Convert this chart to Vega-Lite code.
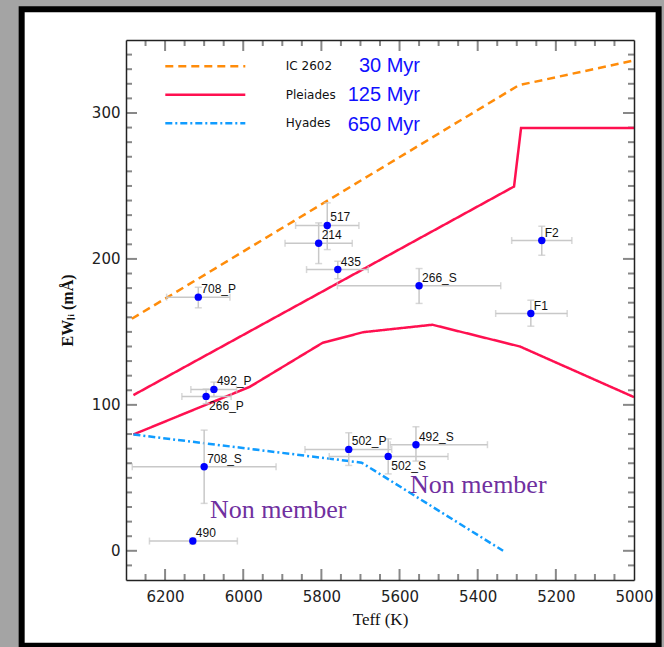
{
  "$schema": "https://vega.github.io/schema/vega-lite/v6.json",
  "width": 508,
  "height": 540,
  "autosize": {"type": "none"},
  "padding": {"left": 126, "top": 40, "right": 30, "bottom": 67},
  "background": "#a4a4a4",
  "config": {
    "view": {"stroke": null},
    "axis": {"grid": false, "labelFlush": false, "labelOverlap": false, "domainColor": "#222222", "domainWidth": 1.5}
  },
  "datasets": {
    "curves": [
      {"cluster": "IC 2602", "seg": "ic", "i": 1, "t": 6285, "ew": 159},
      {"cluster": "IC 2602", "seg": "ic", "i": 2, "t": 5295, "ew": 319},
      {"cluster": "IC 2602", "seg": "ic", "i": 3, "t": 5000, "ew": 336},
      {"cluster": "Pleiades", "seg": "pu", "i": 1, "t": 6281, "ew": 106.7},
      {"cluster": "Pleiades", "seg": "pu", "i": 2, "t": 5307, "ew": 249.6},
      {"cluster": "Pleiades", "seg": "pu", "i": 3, "t": 5289, "ew": 289.7},
      {"cluster": "Pleiades", "seg": "pu", "i": 4, "t": 5000, "ew": 289.7},
      {"cluster": "Pleiades", "seg": "pl", "i": 1, "t": 6281, "ew": 79.7},
      {"cluster": "Pleiades", "seg": "pl", "i": 2, "t": 5983, "ew": 112.4},
      {"cluster": "Pleiades", "seg": "pl", "i": 3, "t": 5797, "ew": 142.5},
      {"cluster": "Pleiades", "seg": "pl", "i": 4, "t": 5693, "ew": 149.8},
      {"cluster": "Pleiades", "seg": "pl", "i": 5, "t": 5516, "ew": 154.9},
      {"cluster": "Pleiades", "seg": "pl", "i": 6, "t": 5292, "ew": 140},
      {"cluster": "Pleiades", "seg": "pl", "i": 7, "t": 5000, "ew": 105.3},
      {"cluster": "Hyades", "seg": "hy", "i": 1, "t": 6281, "ew": 79.7},
      {"cluster": "Hyades", "seg": "hy", "i": 2, "t": 5697, "ew": 60.4},
      {"cluster": "Hyades", "seg": "hy", "i": 3, "t": 5335, "ew": 0}
    ],
    "stars": [
      {"name": "517", "t": 5785, "ew": 222.9, "tlo": 5704, "thi": 5866, "elo": 206.4, "ehi": 238.4},
      {"name": "214", "t": 5807, "ew": 210.7, "tlo": 5721, "thi": 5893, "elo": 196.8, "ehi": 224.7},
      {"name": "435", "t": 5758, "ew": 192.7, "tlo": 5680, "thi": 5838, "elo": 186.4, "ehi": 198.4},
      {"name": "708_P", "t": 6115, "ew": 173.8, "tlo": 6034, "thi": 6196, "elo": 166.5, "ehi": 180.6},
      {"name": "F2", "t": 5236, "ew": 212.6, "tlo": 5159, "thi": 5313, "elo": 202.5, "ehi": 222.4},
      {"name": "266_S", "t": 5550, "ew": 181.6, "tlo": 5341, "thi": 5759, "elo": 169.5, "ehi": 193.4},
      {"name": "F1", "t": 5264, "ew": 162.6, "tlo": 5171, "thi": 5354, "elo": 153.9, "ehi": 171.7},
      {"name": "492_P", "t": 6075, "ew": 110.6, "tlo": 6017, "thi": 6134, "elo": 105.6, "ehi": 115.6},
      {"name": "266_P", "t": 6095, "ew": 105.8, "tlo": 6031, "thi": 6157, "elo": 100.8, "ehi": 110.8},
      {"name": "708_S", "t": 6100, "ew": 57.6, "tlo": 5916, "thi": 6284, "elo": 32.5, "ehi": 82.7},
      {"name": "490", "t": 6129, "ew": 6.7, "tlo": 6015, "thi": 6240, "elo": 4.7, "ehi": 8.7},
      {"name": "502_P", "t": 5730, "ew": 69.5, "tlo": 5620, "thi": 5842, "elo": 58.5, "ehi": 80.9},
      {"name": "502_S", "t": 5629, "ew": 64.7, "tlo": 5476, "thi": 5780, "elo": 52.7, "ehi": 76.7},
      {"name": "492_S", "t": 5558, "ew": 72.7, "tlo": 5375, "thi": 5624, "elo": 61.5, "ehi": 85}
    ],
    "notes": [
      {"label": "Non member", "t": 6085, "ew": 22.7},
      {"label": "Non member", "t": 5573, "ew": 39.8}
    ],
    "ages": [
      {"age": "30 Myr"},
      {"age": "125 Myr"},
      {"age": "650 Myr"}
    ],
    "frame": [
      {"t1": 6567, "t2": 4937, "e1": 371.1, "e2": -65}
    ],
    "xticks": [
      {"v": 6250, "kind": "minor"}, {"v": 6200, "kind": "major"}, {"v": 6150, "kind": "minor"}, {"v": 6100, "kind": "minor"}, {"v": 6050, "kind": "minor"},
      {"v": 6000, "kind": "major"}, {"v": 5950, "kind": "minor"}, {"v": 5900, "kind": "minor"}, {"v": 5850, "kind": "minor"},
      {"v": 5800, "kind": "major"}, {"v": 5750, "kind": "minor"}, {"v": 5700, "kind": "minor"}, {"v": 5650, "kind": "minor"},
      {"v": 5600, "kind": "major"}, {"v": 5550, "kind": "minor"}, {"v": 5500, "kind": "minor"}, {"v": 5450, "kind": "minor"},
      {"v": 5400, "kind": "major"}, {"v": 5350, "kind": "minor"}, {"v": 5300, "kind": "minor"}, {"v": 5250, "kind": "minor"},
      {"v": 5200, "kind": "major"}, {"v": 5150, "kind": "minor"}, {"v": 5100, "kind": "minor"}, {"v": 5050, "kind": "minor"}
    ],
    "yticks": [
      {"v": -10, "kind": "minor"}, {"v": 0, "kind": "major"}, {"v": 10, "kind": "minor"}, {"v": 20, "kind": "minor"}, {"v": 30, "kind": "minor"}, {"v": 40, "kind": "minor"}, {"v": 50, "kind": "minor"},
      {"v": 60, "kind": "minor"}, {"v": 70, "kind": "minor"}, {"v": 80, "kind": "minor"}, {"v": 90, "kind": "minor"}, {"v": 100, "kind": "major"},
      {"v": 110, "kind": "minor"}, {"v": 120, "kind": "minor"}, {"v": 130, "kind": "minor"}, {"v": 140, "kind": "minor"}, {"v": 150, "kind": "minor"},
      {"v": 160, "kind": "minor"}, {"v": 170, "kind": "minor"}, {"v": 180, "kind": "minor"}, {"v": 190, "kind": "minor"}, {"v": 200, "kind": "major"},
      {"v": 210, "kind": "minor"}, {"v": 220, "kind": "minor"}, {"v": 230, "kind": "minor"}, {"v": 240, "kind": "minor"}, {"v": 250, "kind": "minor"},
      {"v": 260, "kind": "minor"}, {"v": 270, "kind": "minor"}, {"v": 280, "kind": "minor"}, {"v": 290, "kind": "minor"}, {"v": 300, "kind": "major"},
      {"v": 310, "kind": "minor"}, {"v": 320, "kind": "minor"}, {"v": 330, "kind": "minor"}, {"v": 340, "kind": "minor"}
    ]
  },
  "resolve": {"axis": {"x": "independent", "y": "independent"}},
  "layer": [
    {
      "data": {"name": "frame"},
      "mark": {"type": "rect", "fill": "white", "stroke": "black", "strokeWidth": 6, "clip": false},
      "encoding": {
        "x": {"field": "t1", "type": "quantitative", "axis": null, "scale": {"domain": [5000, 6300], "reverse": true, "nice": false, "zero": false}},
        "x2": {"field": "t2"},
        "y": {"field": "e1", "type": "quantitative", "axis": null, "scale": {"domain": [-20, 350], "nice": false, "zero": false}},
        "y2": {"field": "e2"}
      }
    },
    {
      "data": {"name": "xticks"},
      "mark": {"type": "tick", "orient": "vertical", "thickness": 2, "color": "#555555", "clip": true},
      "encoding": {
        "x": {"field": "v", "type": "quantitative", "axis": null, "scale": {"domain": [5000, 6300], "reverse": true, "nice": false, "zero": false}},
        "y": {"datum": -20, "type": "quantitative", "axis": null, "scale": {"domain": [-20, 350], "nice": false, "zero": false}},
        "size": {"field": "kind", "type": "nominal", "scale": {"domain": ["major", "minor"], "range": [22, 12]}, "legend": null}
      }
    },
    {
      "data": {"name": "xticks"},
      "mark": {"type": "tick", "orient": "vertical", "thickness": 2, "color": "#555555", "clip": true},
      "encoding": {
        "x": {"field": "v", "type": "quantitative", "axis": null, "scale": {"domain": [5000, 6300], "reverse": true, "nice": false, "zero": false}},
        "y": {"datum": 350, "type": "quantitative", "axis": null, "scale": {"domain": [-20, 350], "nice": false, "zero": false}},
        "size": {"field": "kind", "type": "nominal", "scale": {"domain": ["major", "minor"], "range": [22, 12]}, "legend": null}
      }
    },
    {
      "data": {"name": "yticks"},
      "mark": {"type": "tick", "orient": "horizontal", "thickness": 2, "color": "#555555", "clip": true},
      "encoding": {
        "y": {"field": "v", "type": "quantitative", "axis": null, "scale": {"domain": [-20, 350], "nice": false, "zero": false}},
        "x": {"datum": 6300, "type": "quantitative", "axis": null, "scale": {"domain": [5000, 6300], "reverse": true, "nice": false, "zero": false}},
        "size": {"field": "kind", "type": "nominal", "scale": {"domain": ["major", "minor"], "range": [22, 12]}, "legend": null}
      }
    },
    {
      "data": {"name": "yticks"},
      "mark": {"type": "tick", "orient": "horizontal", "thickness": 2, "color": "#555555", "clip": true},
      "encoding": {
        "y": {"field": "v", "type": "quantitative", "axis": null, "scale": {"domain": [-20, 350], "nice": false, "zero": false}},
        "x": {"datum": 5000, "type": "quantitative", "axis": null, "scale": {"domain": [5000, 6300], "reverse": true, "nice": false, "zero": false}},
        "size": {"field": "kind", "type": "nominal", "scale": {"domain": ["major", "minor"], "range": [22, 12]}, "legend": null}
      }
    },
    {
      "data": {"name": "curves"},
      "mark": {"type": "line", "strokeWidth": 2.5},
      "encoding": {
        "x": {"field": "t", "type": "quantitative", "scale": {"domain": [5000, 6300], "reverse": true, "nice": false, "zero": false},
          "axis": {"zindex": 2, "orient": "bottom", "format": "d", "values": [6200, 6000, 5800, 5600, 5400, 5200, 5000], "ticks": false, "domain": true, "labelPadding": 9, "labelFont": "DejaVu Sans", "labelFontSize": 15, "labelColor": "#222222", "title": "Teff (K)", "titleFont": "Liberation Serif", "titleFontSize": 17, "titleFontWeight": "normal", "titleColor": "#111111", "titlePadding": 7}},
        "y": {"field": "ew", "type": "quantitative", "scale": {"domain": [-20, 350], "nice": false, "zero": false},
          "axis": {"zindex": 2, "orient": "left", "format": "d", "values": [0, 100, 200, 300], "ticks": false, "domain": true, "labelPadding": 6, "labelFont": "DejaVu Sans", "labelFontSize": 15, "labelColor": "#222222", "title": "EWₗᵢ (mÅ)", "titleFont": "Liberation Serif", "titleFontSize": 16, "titleFontWeight": "bold", "titleColor": "#111111", "titlePadding": 16}},
        "detail": {"field": "seg"},
        "order": {"field": "i"},
        "color": {"field": "cluster", "type": "nominal",
          "scale": {"domain": ["IC 2602", "Pleiades", "Hyades"], "range": ["#ff8c0a", "#ff1050", "#109cff"]},
          "legend": {"orient": "none", "legendX": 67.8, "legendY": 14.7, "padding": 0, "title": null, "symbolType": "M-4,0H4", "symbolSize": 400, "symbolStrokeWidth": 2.5, "labelOffset": 69, "rowPadding": 10.5, "labelFont": "DejaVu Sans", "labelFontSize": 12, "labelColor": "#111111"}},
        "strokeDash": {"field": "cluster", "type": "nominal",
          "scale": {"domain": ["IC 2602", "Pleiades", "Hyades"], "range": [[8, 5], [1, 0], [7, 3, 2, 3]]},
          "legend": {"orient": "none", "legendX": 67.8, "legendY": 14.7, "padding": 0, "title": null, "symbolType": "M-4,0H4", "symbolSize": 400, "symbolStrokeWidth": 2.5, "labelOffset": 69, "rowPadding": 10.5, "labelFont": "DejaVu Sans", "labelFontSize": 12, "labelColor": "#111111"}}
      }
    },
    {
      "data": {"name": "stars"},
      "mark": {"type": "errorbar", "ticks": {"size": 7}, "color": "#c8c8c8", "thickness": 1.5},
      "encoding": {
        "x": {"field": "tlo", "type": "quantitative", "scale": {"domain": [5000, 6300], "reverse": true, "nice": false, "zero": false},
          "axis": {"zindex": 2, "orient": "top", "values": [6300, 5000], "ticks": false, "labels": false, "domain": true, "title": null}},
        "x2": {"field": "thi"},
        "y": {"field": "ew", "type": "quantitative", "scale": {"domain": [-20, 350], "nice": false, "zero": false},
          "axis": {"zindex": 2, "orient": "right", "values": [-20, 350], "ticks": false, "labels": false, "domain": true, "title": null}}
      }
    },
    {
      "data": {"name": "stars"},
      "mark": {"type": "errorbar", "ticks": {"size": 7}, "color": "#c8c8c8", "thickness": 1.5},
      "encoding": {
        "y": {"field": "elo", "type": "quantitative", "axis": null, "scale": {"domain": [-20, 350], "nice": false, "zero": false}},
        "y2": {"field": "ehi"},
        "x": {"field": "t", "type": "quantitative", "axis": null, "scale": {"domain": [5000, 6300], "reverse": true, "nice": false, "zero": false}}
      }
    },
    {
      "data": {"name": "stars"},
      "mark": {"type": "circle", "size": 55, "color": "#0000ff", "opacity": 1},
      "encoding": {
        "x": {"field": "t", "type": "quantitative", "axis": null, "scale": {"domain": [5000, 6300], "reverse": true, "nice": false, "zero": false}},
        "y": {"field": "ew", "type": "quantitative", "axis": null, "scale": {"domain": [-20, 350], "nice": false, "zero": false}}
      }
    },
    {
      "data": {"name": "stars"},
      "transform": [{"filter": "datum.name !== '266_P' && datum.name !== '502_S'"}],
      "mark": {"type": "text", "align": "left", "baseline": "alphabetic", "dx": 3, "dy": -4, "font": "Liberation Sans", "fontSize": 12, "color": "#111111"},
      "encoding": {
        "x": {"field": "t", "type": "quantitative", "axis": null, "scale": {"domain": [5000, 6300], "reverse": true, "nice": false, "zero": false}},
        "y": {"field": "ew", "type": "quantitative", "axis": null, "scale": {"domain": [-20, 350], "nice": false, "zero": false}},
        "text": {"field": "name"}
      }
    },
    {
      "data": {"name": "stars"},
      "transform": [{"filter": "datum.name === '266_P' || datum.name === '502_S'"}],
      "mark": {"type": "text", "align": "left", "baseline": "top", "dx": 3, "dy": 5, "font": "Liberation Sans", "fontSize": 12, "color": "#111111"},
      "encoding": {
        "x": {"field": "t", "type": "quantitative", "axis": null, "scale": {"domain": [5000, 6300], "reverse": true, "nice": false, "zero": false}},
        "y": {"field": "ew", "type": "quantitative", "axis": null, "scale": {"domain": [-20, 350], "nice": false, "zero": false}},
        "text": {"field": "name"}
      }
    },
    {
      "data": {"name": "notes"},
      "mark": {"type": "text", "align": "left", "baseline": "alphabetic", "font": "Liberation Serif", "fontSize": 26, "color": "#7030a0"},
      "encoding": {
        "x": {"field": "t", "type": "quantitative", "axis": null, "scale": {"domain": [5000, 6300], "reverse": true, "nice": false, "zero": false}},
        "y": {"field": "ew", "type": "quantitative", "axis": null, "scale": {"domain": [-20, 350], "nice": false, "zero": false}},
        "text": {"field": "label"}
      }
    },
    {
      "data": {"name": "ages"},
      "mark": {"type": "point", "opacity": 0},
      "encoding": {
        "shape": {"field": "age", "type": "nominal",
          "scale": {"domain": ["30 Myr", "125 Myr", "650 Myr"], "range": ["circle", "square", "diamond"]},
          "legend": {"orient": "none", "legendX": 274, "legendY": 15.5, "padding": 0, "title": null, "symbolSize": 100, "symbolOpacity": 0, "symbolStrokeWidth": 0, "labelOffset": 0, "labelAlign": "right", "rowPadding": 9.5, "labelFont": "Liberation Sans", "labelFontSize": 20, "labelColor": "#1010ff"}}
      }
    }
  ]
}
